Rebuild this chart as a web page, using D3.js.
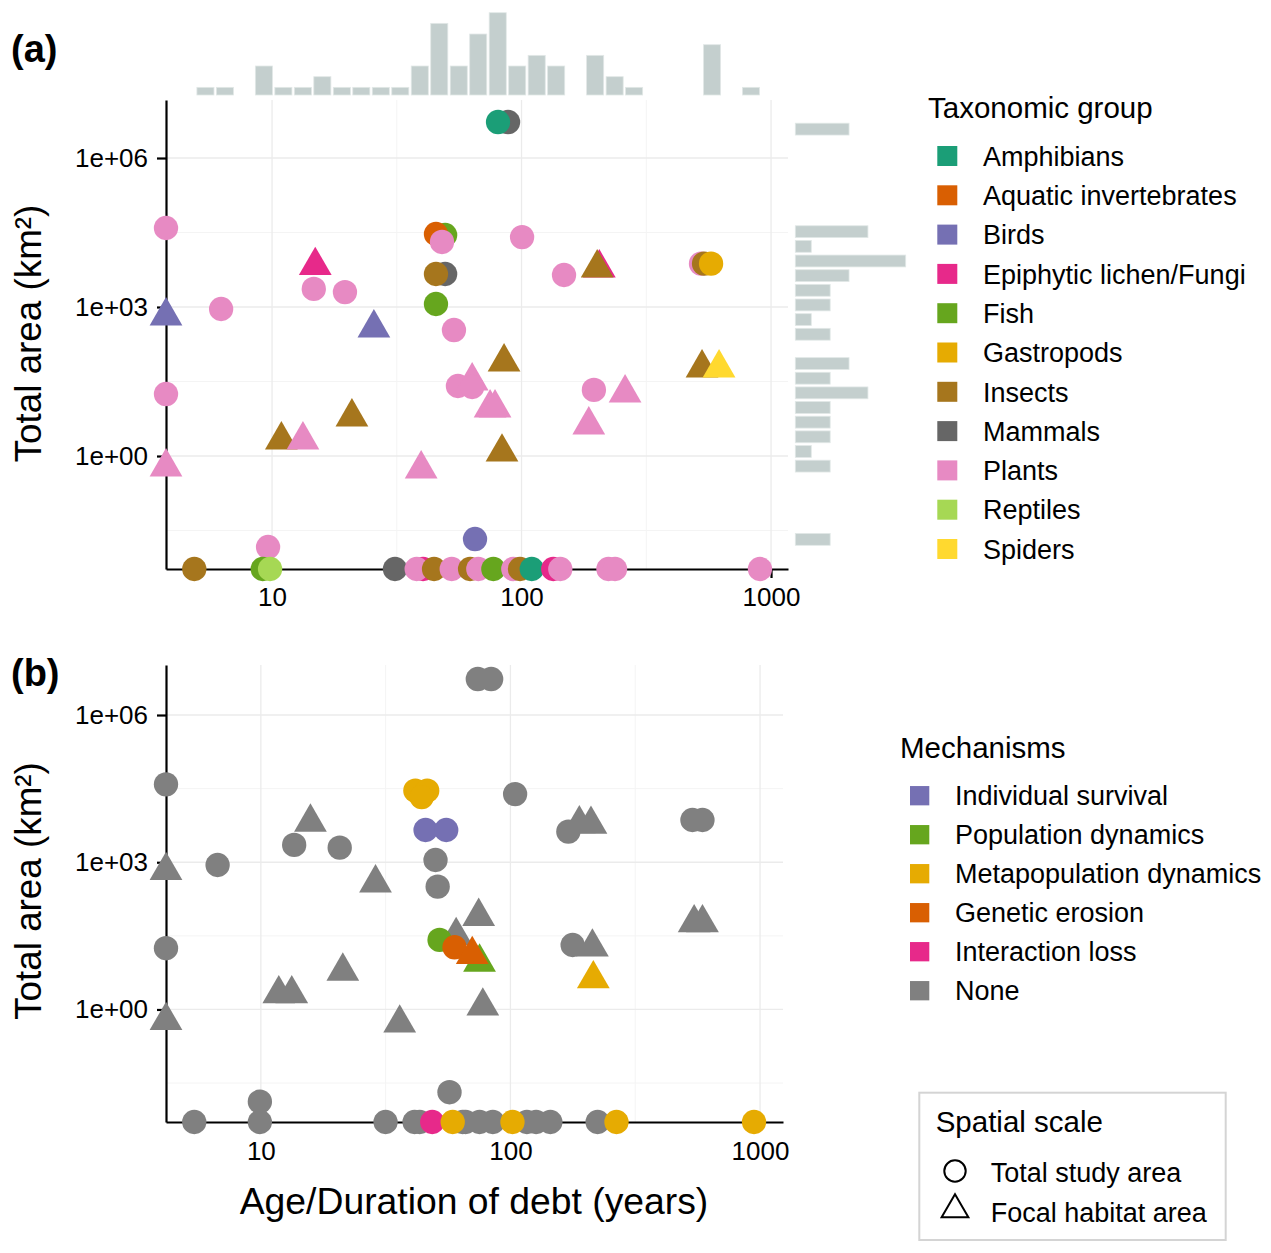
<!DOCTYPE html>
<html>
<head>
<meta charset="utf-8">
<script src="https://cdn.jsdelivr.net/npm/d3@7"></script>
<style>
  body { margin: 0; background: #fff; }
  svg { font-family: "Liberation Sans", Arial, Helvetica, sans-serif; }
</style>
</head>
<body>
<svg id="chart" width="1271" height="1253"></svg>
<script>
// categories and colours
const taxa = ['Amphibians', 'Aquatic invertebrates', 'Birds', 'Epiphytic lichen/Fungi', 'Fish',
  'Gastropods', 'Insects', 'Mammals', 'Plants', 'Reptiles', 'Spiders'];
const taxaColors = ['#1b9e77', '#d95f02', '#7570b3', '#e7298a', '#66a61e',
  '#e6ab02', '#a6761d', '#666666', '#e78ac3', '#a6d854', '#ffd92f'];
const mechanisms = ['Individual survival', 'Population dynamics', 'Metapopulation dynamics',
  'Genetic erosion', 'Interaction loss', 'None'];
const mechColors = ['#7570b3', '#66a61e', '#e6ab02', '#d95f02', '#e7298a', '#808080'];
const spatialScales = ['Total study area', 'Focal habitat area'];

// ticks
const xTicks = [10, 100, 1000];
const xTickLabels = ['10', '100', '1000'];
const xMinor = [10 ** 1.5, 10 ** 2.5];
const yTicks = [1, 1e3, 1e6];
const yTickLabels = ['1e+00', '1e+03', '1e+06'];
const yMinor = [10 ** -1.5, 10 ** 1.5, 10 ** 4.5];

// panel (a): [taxon, spatial scale (T = total study area, F = focal habitat), age (yr), area (km2)]
// null = not reported, drawn on the axis
const pointsA = [
  ['Mammals', 'T', 88.3, 5.3e6],
  ['Amphibians', 'T', 80.5, 5.3e6],
  ['Plants', 'T', null, 39000],
  ['Fish', 'T', 49.4, 28200],
  ['Aquatic invertebrates', 'T', 45.4, 29500],
  ['Plants', 'T', 48.0, 20400],
  ['Plants', 'T', 100.5, 25600],
  ['Epiphytic lichen/Fungi', 'F', 14.9, 6830],
  ['Mammals', 'T', 49.4, 4620],
  ['Insects', 'T', 45.4, 4620],
  ['Plants', 'T', 148, 4410],
  ['Epiphytic lichen/Fungi', 'F', 205, 6090],
  ['Insects', 'F', 201, 6090],
  ['Plants', 'T', 524, 7450],
  ['Insects', 'T', 539, 7450],
  ['Gastropods', 'T', 575, 7450],
  ['Plants', 'T', 14.7, 2310],
  ['Plants', 'T', 19.6, 2000],
  ['Fish', 'T', 45.4, 1150],
  ['Plants', 'T', 6.25, 912],
  ['Birds', 'F', null, 659],
  ['Birds', 'F', 25.6, 378],
  ['Plants', 'T', 53.6, 344],
  ['Insects', 'F', 85.1, 78.1],
  ['Insects', 'F', 529, 59.2],
  ['Spiders', 'F', 619, 59.2],
  ['Plants', 'T', 55.6, 25.7],
  ['Plants', 'F', 63.4, 32.4],
  ['Plants', 'T', 63.4, 24.5],
  ['Plants', 'T', 195, 21.4],
  ['Plants', 'F', 260, 18.6],
  ['Plants', 'T', null, 17.7],
  ['Plants', 'F', 74.8, 9.27],
  ['Plants', 'F', 78.3, 9.27],
  ['Insects', 'F', 20.9, 6.11],
  ['Plants', 'F', 186, 4.22],
  ['Insects', 'F', 10.9, 2.10],
  ['Plants', 'F', 13.3, 2.10],
  ['Insects', 'F', 83.5, 1.20],
  ['Plants', 'F', null, 0.601],
  ['Plants', 'F', 39.6, 0.547],
  ['Birds', 'T', 65.1, 0.0213],
  ['Plants', 'T', 9.64, 0.0147],
  ['Insects', 'T', 4.88, null],
  ['Fish', 'T', 9.18, null],
  ['Reptiles', 'T', 9.82, null],
  ['Mammals', 'T', 31.1, null],
  ['Epiphytic lichen/Fungi', 'T', 40.3, null],
  ['Plants', 'T', 38.0, null],
  ['Insects', 'T', 44.6, null],
  ['Plants', 'T', 52.5, null],
  ['Insects', 'T', 62.2, null],
  ['Plants', 'T', 67.1, null],
  ['Fish', 'T', 77.1, null],
  ['Plants', 'T', 92.7, null],
  ['Insects', 'T', 98.6, null],
  ['Amphibians', 'T', 109.9, null],
  ['Epiphytic lichen/Fungi', 'T', 134, null],
  ['Plants', 'T', 143, null],
  ['Plants', 'T', 223, null],
  ['Plants', 'T', 237, null],
  ['Plants', 'T', 903, null]
];

// panel (b): [mechanism, spatial scale, age (yr), area (km2)]
const pointsB = [
  ['None', 'T', 74.0, 5.41e6],
  ['None', 'T', 83.7, 5.41e6],
  ['None', 'T', null, 38700],
  ['Metapopulation dynamics', 'T', 41.6, 28700],
  ['Metapopulation dynamics', 'T', 46.4, 28700],
  ['Metapopulation dynamics', 'T', 44.1, 21300],
  ['Individual survival', 'T', 45.7, 4540],
  ['Individual survival', 'T', 55.3, 4540],
  ['None', 'F', 15.8, 6540],
  ['None', 'T', 13.6, 2250],
  ['None', 'T', 20.7, 1980],
  ['None', 'F', null, 676],
  ['None', 'T', 6.71, 879],
  ['None', 'F', 28.8, 379],
  ['None', 'T', 50.1, 1110],
  ['None', 'T', 51.1, 318],
  ['None', 'T', 104.4, 24500],
  ['None', 'T', 170.6, 4190],
  ['None', 'F', 188.8, 6040],
  ['None', 'F', 210.2, 5930],
  ['None', 'T', 536, 7260],
  ['None', 'T', 588, 7260],
  ['None', 'T', null, 17.7],
  ['None', 'F', null, 0.593],
  ['None', 'F', 11.8, 2.08],
  ['None', 'F', 13.3, 2.08],
  ['None', 'F', 21.3, 6.03],
  ['None', 'F', 36.0, 0.526],
  ['None', 'F', 74.6, 78.5],
  ['None', 'F', 60.6, 32.0],
  ['Population dynamics', 'T', 52.0, 26.1],
  ['Genetic erosion', 'T', 59.7, 18.5],
  ['Population dynamics', 'F', 75.2, 9.18],
  ['Genetic erosion', 'F', 70.3, 13.1],
  ['None', 'F', 77.5, 1.17],
  ['None', 'T', 177.5, 20.6],
  ['None', 'F', 213, 18.6],
  ['Metapopulation dynamics', 'F', 214.8, 4.2],
  ['None', 'F', 544.5, 58.1],
  ['None', 'F', 588, 58.1],
  ['None', 'T', 9.91, 0.0132],
  ['None', 'T', 57.0, 0.0206],
  ['None', 'T', 5.41, null],
  ['None', 'T', 9.91, null],
  ['None', 'T', 31.6, null],
  ['None', 'T', 41.3, null],
  ['None', 'T', 43.3, null],
  ['Interaction loss', 'T', 48.6, null],
  ['None', 'T', 64.4, null],
  ['None', 'T', 66.1, null],
  ['Metapopulation dynamics', 'T', 58.7, null],
  ['None', 'T', 75.2, null],
  ['None', 'T', 85.0, null],
  ['None', 'T', 116.4, null],
  ['None', 'T', 126.7, null],
  ['None', 'T', 144.5, null],
  ['Metapopulation dynamics', 'T', 101.9, null],
  ['None', 'T', 223.5, null],
  ['Metapopulation dynamics', 'T', 266, null],
  ['Metapopulation dynamics', 'T', 946, null]
];

// marginal histograms of panel (a), bins in log10 units
const ageBinStart = 0.694, ageBinWidth = 0.0781;
const ageCounts = [1, 1, 0, 3, 1, 1, 2, 1, 1, 1, 1, 3, 7, 3, 6, 8, 3, 4, 3, 0, 4, 2, 1, 0, 0, 0, 5, 0, 1];
const areaBinStart = -1.826, areaBinWidth = 0.295;
const areaCounts = [2, 0, 0, 0, 0, 2, 1, 2, 2, 2, 4, 2, 3, 0, 2, 1, 2, 2, 3, 6, 1, 4, 0, 0, 0, 0, 0, 0, 3];

const svg = d3.select('#chart');
const symbolSize = 465;
const histFill = '#c4cfce';

function drawPanel(p) {
  const { x, y, points, colorOf, ticksBottomPad } = p;
  const g = svg.append('g');
  const [x0, x1] = x.range();
  const [y0, y1] = y.range();

  // grid
  g.selectAll('.vminor').data(xMinor).enter().append('line')
    .attr('x1', d => x(d)).attr('x2', d => x(d)).attr('y1', y0).attr('y2', y1)
    .attr('stroke', '#f4f4f4').attr('stroke-width', 1);
  g.selectAll('.hminor').data(yMinor).enter().append('line')
    .attr('x1', x0).attr('x2', x1).attr('y1', d => y(d)).attr('y2', d => y(d))
    .attr('stroke', '#f4f4f4').attr('stroke-width', 1);
  g.selectAll('.vmajor').data(xTicks).enter().append('line')
    .attr('x1', d => x(d)).attr('x2', d => x(d)).attr('y1', y0).attr('y2', y1)
    .attr('stroke', '#ebebeb').attr('stroke-width', 1.3);
  g.selectAll('.hmajor').data(yTicks).enter().append('line')
    .attr('x1', x0).attr('x2', x1).attr('y1', d => y(d)).attr('y2', d => y(d))
    .attr('stroke', '#ebebeb').attr('stroke-width', 1.3);

  // axes
  const ax = g.append('g').attr('transform', `translate(0,${y0})`)
    .call(d3.axisBottom(x).tickValues(xTicks).tickFormat((d, i) => xTickLabels[i])
      .tickSize(9).tickSizeOuter(0).tickPadding(ticksBottomPad));
  const ay = g.append('g').attr('transform', `translate(${x0},0)`)
    .call(d3.axisLeft(y).tickValues(yTicks).tickFormat((d, i) => yTickLabels[i])
      .tickSize(9).tickSizeOuter(0).tickPadding(9));
  [ax, ay].forEach(a => {
    a.attr('color', '#000');
    a.select('.domain').attr('stroke-width', 2.2);
    a.selectAll('.tick line').attr('stroke-width', 2.2);
    a.selectAll('.tick text').style('font-size', '26px').attr('fill', '#000')
      .style('font-family', '"Liberation Sans", Arial, sans-serif');
  });

  // points
  const ageMin = x.domain()[0], areaMin = y.domain()[0];
  g.selectAll('.pt').data(points).enter().append('path')
    .attr('transform', d => `translate(${x(d[2] ?? ageMin)},${y(d[3] ?? areaMin)})`)
    .attr('d', d => d3.symbol().type(d[1] === 'T' ? d3.symbolCircle : d3.symbolTriangle).size(symbolSize)())
    .attr('fill', d => colorOf(d[0]));
  return g;
}

// panel (a)
const xA = d3.scaleLog().domain([10 ** 0.575, 10 ** 3.068]).range([166, 788]);
const yA = d3.scaleLog().domain([10 ** -2.275, 10 ** 7.168]).range([569, 100]);
const taxonColor = d3.scaleOrdinal().domain(taxa).range(taxaColors);

// top marginal histogram
const hTop = d3.scaleLinear().domain([0, 8]).range([98, 12.7]);
ageCounts.forEach((c, i) => {
  if (!c) return;
  const xl = xA(10 ** (ageBinStart + i * ageBinWidth));
  const xr = xA(10 ** (ageBinStart + (i + 1) * ageBinWidth));
  svg.append('rect')
    .attr('x', xl + 1.2).attr('width', xr - xl - 2.4)
    .attr('y', hTop(c)).attr('height', 95 - hTop(c))
    .attr('fill', histFill).attr('stroke', '#e2e8e7').attr('stroke-width', 0.8);
});

// right marginal histogram
const hRight = d3.scaleLinear().domain([0, 6]).range([792.4, 905.7]);
areaCounts.forEach((c, i) => {
  if (!c) return;
  const yb = yA(10 ** (areaBinStart + i * areaBinWidth));
  const yt = yA(10 ** (areaBinStart + (i + 1) * areaBinWidth));
  svg.append('rect')
    .attr('x', 795.3).attr('width', hRight(c) - 795.3)
    .attr('y', yt + 1.4).attr('height', yb - yt - 2.8)
    .attr('fill', histFill).attr('stroke', '#e2e8e7').attr('stroke-width', 0.8);
});

drawPanel({ x: xA, y: yA, points: pointsA, colorOf: taxonColor, ticksBottomPad: 10 });

// panel (b)
const xB = d3.scaleLog().domain([10 ** 0.62, 10 ** 3.092]).range([166, 783]);
const yB = d3.scaleLog().domain([10 ** -2.293, 10 ** 7.019]).range([1122, 665]);
const mechColor = d3.scaleOrdinal().domain(mechanisms).range(mechColors);
drawPanel({ x: xB, y: yB, points: pointsB, colorOf: mechColor, ticksBottomPad: 10.5 });

// axis titles and tags
const yTitle = 'Total area (km\u00b2)';
svg.append('text').attr('transform', 'translate(41,333.5) rotate(-90)')
  .attr('text-anchor', 'middle').style('font-size', '36.8px').text(yTitle);
svg.append('text').attr('transform', 'translate(41,891) rotate(-90)')
  .attr('text-anchor', 'middle').style('font-size', '36.8px').text(yTitle);
svg.append('text').attr('x', 474).attr('y', 1214).attr('text-anchor', 'middle')
  .style('font-size', '37.3px').text('Age/Duration of debt (years)');
svg.append('text').attr('x', 11).attr('y', 62).style('font-size', '38px')
  .style('font-weight', 'bold').text('(a)');
svg.append('text').attr('x', 11).attr('y', 686).style('font-size', '38px')
  .style('font-weight', 'bold').text('(b)');

// legends
function colorLegend(title, tx, ty, names, colors, kx, ky0, step, ks, lx) {
  const g = svg.append('g');
  g.append('text').attr('x', tx).attr('y', ty).style('font-size', '29.5px').text(title);
  names.forEach((n, i) => {
    const cy = ky0 + i * step;
    g.append('rect').attr('x', kx).attr('y', cy - ks / 2).attr('width', ks).attr('height', ks)
      .attr('fill', colors[i]);
    g.append('text').attr('x', lx).attr('y', cy).attr('dy', '0.36em')
      .style('font-size', '27px').text(n);
  });
}
colorLegend('Taxonomic group', 928, 118, taxa, taxaColors, 937.3, 156, 39.3, 20, 983);
colorLegend('Mechanisms', 900, 758, mechanisms, mechColors, 910, 795.7, 39, 19.3, 955);

const sg = svg.append('g');
sg.append('rect').attr('x', 919.3).attr('y', 1092.7).attr('width', 306.4).attr('height', 147.3)
  .attr('fill', 'none').attr('stroke', '#d4d4d4').attr('stroke-width', 2);
sg.append('text').attr('x', 935.7).attr('y', 1132).style('font-size', '29.5px').text('Spatial scale');
[d3.symbolCircle, d3.symbolTriangle].forEach((t, i) => {
  const cy = [1171, 1209.6][i];
  sg.append('path').attr('transform', `translate(955,${cy})`)
    .attr('d', d3.symbol().type(t).size(i ? 310 : 360)())
    .attr('fill', 'none').attr('stroke', '#000').attr('stroke-width', 2);
  sg.append('text').attr('x', 990.7).attr('y', [1172, 1212][i]).attr('dy', '0.36em')
    .style('font-size', '27px').text(spatialScales[i]);
});
</script>
</body>
</html>
